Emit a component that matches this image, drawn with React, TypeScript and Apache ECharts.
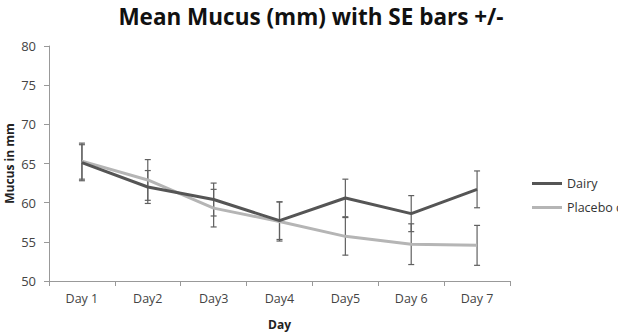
import React, { useEffect, useRef } from "react";
import * as echarts from "echarts";

const categories = ["Day 1", "Day2", "Day3", "Day4", "Day5", "Day 6", "Day 7"];
const dairy = [65.1, 62.0, 60.4, 57.7, 60.6, 58.6, 61.7];
const dairyErr = [2.3, 2.1, 2.1, 2.4, 2.4, 2.3, 2.35];
const placebo = [65.3, 62.9, 59.3, 57.6, 55.7, 54.7, 54.55];
const placeboErr = [2.3, 2.6, 2.4, 2.5, 2.4, 2.6, 2.55];
const yTicks = [50, 55, 60, 65, 70, 75, 80];

const errData = (vals: number[], errs: number[]) =>
  vals.map((v, i) => [i, v - errs[i], v + errs[i]]);

const errSeries = (name: string, vals: number[], errs: number[]) => ({
  type: "custom",
  name,
  data: errData(vals, errs),
  z: 1,
  renderItem: (params: any, api: any) => {
    const x = api.value(0);
    const lo = api.coord([x, api.value(1)]);
    const hi = api.coord([x, api.value(2)]);
    const hw = 3;
    const style = { stroke: "#606060", lineWidth: 1.2 };
    return {
      type: "group",
      children: [
        { type: "line", shape: { x1: hi[0], y1: hi[1], x2: lo[0], y2: lo[1] }, style },
        { type: "line", shape: { x1: hi[0] - hw, y1: hi[1], x2: hi[0] + hw, y2: hi[1] }, style },
        { type: "line", shape: { x1: lo[0] - hw, y1: lo[1], x2: lo[0] + hw, y2: lo[1] }, style },
      ],
    };
  },
});

export default function App() {
  const ref = useRef<HTMLDivElement>(null);
  useEffect(() => {
    if (!ref.current) return;
    const chart = echarts.init(ref.current, null, { renderer: "svg" });
    chart.setOption({
      animation: false,
      backgroundColor: "#ffffff",
      title: {
        text: "Mean Mucus (mm) with SE bars +/-",
        left: 306,
        textAlign: "center",
        top: 0,
        textStyle: { fontFamily: "Open Sans", fontWeight: "bold", fontSize: 22.5, color: "#111" },
      },
      legend: {
        orient: "vertical",
        left: 532,
        top: 177,
        padding: 0,
        icon: "rect",
        itemWidth: 30,
        itemHeight: 3,
        itemGap: 11,
        data: ["Dairy", "Placebo control"],
        textStyle: { fontFamily: "Open Sans", fontSize: 12.5, color: "#333" },
      },
      grid: { left: 49, right: 108, top: 46, bottom: 51, containLabel: false, outerBoundsMode: "none" },
      xAxis: {
        type: "category",
        data: categories,
        boundaryGap: true,
        name: "Day",
        nameLocation: "middle",
        nameGap: 37,
        nameMoveOverlap: false,
        nameTextStyle: { fontFamily: "Open Sans", fontWeight: "bold", fontSize: 12, color: "#222" },
        axisLine: { lineStyle: { color: "#999", width: 1 } },
        axisTick: { show: true, alignWithLabel: false, length: 5, lineStyle: { color: "#999" } },
        axisLabel: { fontFamily: "Open Sans", fontSize: 12.5, color: "#444", margin: 11 },
      },
      yAxis: {
        type: "value",
        min: 50,
        max: 80,
        interval: 5,
        name: "Mucus in mm",
        nameLocation: "middle",
        nameGap: 34,
        nameMoveOverlap: false,
        nameTextStyle: { fontFamily: "Open Sans", fontWeight: "bold", fontSize: 12, color: "#222" },
        axisLine: { show: true, lineStyle: { color: "#999", width: 1 } },
        axisTick: { show: true, length: 5, lineStyle: { color: "#999" } },
        splitLine: { show: false },
        axisLabel: {
          fontFamily: "Open Sans",
          fontSize: 13,
          color: "#444",
          margin: 13,
          formatter: (v: number) => (yTicks.includes(v) ? String(v) : ""),
        },
      },
      series: [
        errSeries("Dairy SE", dairy, dairyErr),
        errSeries("Placebo SE", placebo, placeboErr),
        {
          type: "line",
          name: "Placebo control",
          data: placebo,
          symbol: "none",
          z: 2,
          lineStyle: { color: "#b5b5b5", width: 3 },
          itemStyle: { color: "#b5b5b5" },
        },
        {
          type: "line",
          name: "Dairy",
          data: dairy,
          symbol: "none",
          z: 3,
          lineStyle: { color: "#555555", width: 3 },
          itemStyle: { color: "#555555" },
        },
      ],
    });
    return () => chart.dispose();
  }, []);
  return (
    <div
      ref={ref}
      style={{ position: "fixed", left: 0, top: 0, width: 618, height: 332, overflow: "hidden" }}
    />
  );
}
